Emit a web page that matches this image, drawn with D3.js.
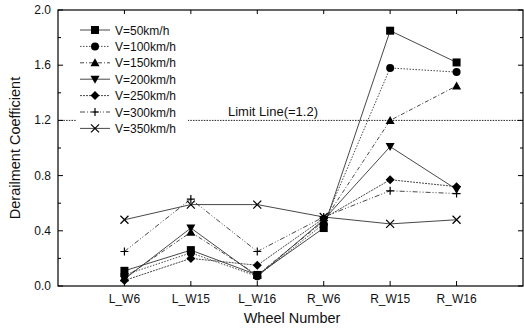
<!DOCTYPE html>
<html><head><meta charset="utf-8">
<script src="https://cdn.jsdelivr.net/npm/d3@7/dist/d3.min.js"></script>
<style>body{margin:0;background:#fff;} text{font-family:Arial,"Liberation Sans",sans-serif;fill:#111;}</style>
</head><body><svg id="c" width="524" height="329"></svg>
<script>
const categories = ["L_W6","L_W15","L_W16","R_W6","R_W15","R_W16"];
const seriesNames = ["V=50km/h","V=100km/h","V=150km/h","V=200km/h","V=250km/h","V=300km/h","V=350km/h"];
const v50  = [0.11,0.26,0.08,0.42,1.85,1.62];
const v100 = [0.08,0.24,0.07,0.45,1.58,1.55];
const v150 = [0.06,0.39,0.08,0.47,1.20,1.45];
const v200 = [0.05,0.42,0.07,0.48,1.01,0.70];
const v250 = [0.04,0.20,0.15,0.49,0.77,0.72];
const v300 = [0.25,0.63,0.25,0.50,0.69,0.67];
const v350 = [0.48,0.59,0.59,0.50,0.45,0.48];
const yTicks = [0.0,0.4,0.8,1.2,1.6,2.0];
const limitValue = 1.2;

const seriesValues = [v50,v100,v150,v200,v250,v300,v350];
const symbols = ["square","circle","triangle","tridown","diamond","plus","cross"];
const dashes = [null,"1.5,1.5","4,2,1,2",null,"2,1","5,2,1,2,1,2",null];

const svg = d3.select("#c");
const L=58,R=523,T=10,B=286;
const x = d3.scaleLinear().domain([-1,categories.length]).range([L,R]);
const y = d3.scaleLinear().domain([0,2]).range([B,T]);

// limit line
svg.append("line").attr("x1",L).attr("x2",R).attr("y1",y(limitValue)).attr("y2",y(limitValue))
  .attr("stroke","#222").attr("stroke-width",1).attr("stroke-dasharray","1.5,1.2");
svg.append("text").attr("x",228).attr("y",y(limitValue)-4).attr("font-size",13).text("Limit Line(=1.2)");

// series lines
const line = d3.line().x((d,i)=>x(i)).y(d=>y(d));
seriesValues.forEach((vals,k)=>{
  svg.append("path").attr("d",line(vals)).attr("fill","none").attr("stroke","#333")
    .attr("stroke-width",0.9).attr("stroke-dasharray",dashes[k]);
});

function drawSym(g,type,cx,cy){
  const s=4;
  if(type==="square") g.append("rect").attr("x",cx-s).attr("y",cy-s).attr("width",2*s).attr("height",2*s).attr("fill","#000");
  else if(type==="circle") g.append("circle").attr("cx",cx).attr("cy",cy).attr("r",4).attr("fill","#000");
  else if(type==="triangle") g.append("path").attr("d",`M${cx},${cy-4.5}L${cx+4.5},${cy+3.5}L${cx-4.5},${cy+3.5}Z`).attr("fill","#000");
  else if(type==="tridown") g.append("path").attr("d",`M${cx},${cy+4.5}L${cx+4.5},${cy-3.5}L${cx-4.5},${cy-3.5}Z`).attr("fill","#000");
  else if(type==="diamond") g.append("path").attr("d",`M${cx},${cy-4.5}L${cx+4.5},${cy}L${cx},${cy+4.5}L${cx-4.5},${cy}Z`).attr("fill","#000");
  else if(type==="plus") g.append("path").attr("d",`M${cx-4},${cy}H${cx+4}M${cx},${cy-4}V${cy+4}`).attr("stroke","#000").attr("stroke-width",1.2);
  else if(type==="cross") g.append("path").attr("d",`M${cx-4},${cy-4}L${cx+4},${cy+4}M${cx+4},${cy-4}L${cx-4},${cy+4}`).attr("stroke","#000").attr("stroke-width",1.2);
}
seriesValues.forEach((vals,k)=>{
  const g=svg.append("g");
  vals.forEach((v,i)=>drawSym(g,symbols[k],x(i),y(v)));
});

// legend
const lg = svg.append("g");
lg.append("rect").attr("x",76).attr("y",21).attr("width",112).attr("height",115).attr("fill","#fff");
seriesNames.forEach((n,k)=>{
  const yy = 30 + k*16.4;
  lg.append("line").attr("x1",80).attr("x2",110).attr("y1",yy).attr("y2",yy).attr("stroke","#333")
    .attr("stroke-width",0.9).attr("stroke-dasharray",dashes[k]);
  drawSym(lg,symbols[k],95,yy);
  lg.append("text").attr("x",115).attr("y",yy+4.5).attr("font-size",12).text(n);
});

// frame
svg.append("rect").attr("x",L).attr("y",T).attr("width",R-L).attr("height",B-T).attr("fill","none").attr("stroke","#000").attr("stroke-width",1.2);

// y axis
const minor = d3.range(0,2.001,0.2);
minor.forEach(v=>{
  const major = yTicks.some(t=>Math.abs(t-v)<1e-6);
  const len = major?5:3;
  svg.append("line").attr("x1",L).attr("x2",L+len).attr("y1",y(v)).attr("y2",y(v)).attr("stroke","#000");
  svg.append("line").attr("x1",R).attr("x2",R-len).attr("y1",y(v)).attr("y2",y(v)).attr("stroke","#000");
});
yTicks.forEach(v=>{
  svg.append("text").attr("x",L-7).attr("y",y(v)+4).attr("text-anchor","end").attr("font-size",12).text(v.toFixed(1));
});
// x axis
categories.forEach((c,i)=>{
  svg.append("line").attr("x1",x(i)).attr("x2",x(i)).attr("y1",B).attr("y2",B-5).attr("stroke","#000");
  svg.append("line").attr("x1",x(i)).attr("x2",x(i)).attr("y1",T).attr("y2",T+4).attr("stroke","#000");
  svg.append("text").attr("x",x(i)).attr("y",B+17).attr("text-anchor","middle").attr("font-size",12).text(c);
});
svg.append("text").attr("x",292).attr("y",323).attr("text-anchor","middle").attr("font-size",14.5).text("Wheel Number");
svg.append("text").attr("transform",`translate(20,${(T+B)/2}) rotate(-90)`).attr("text-anchor","middle").attr("font-size",14.5).text("Derailment Coefficient");
</script></body></html>
